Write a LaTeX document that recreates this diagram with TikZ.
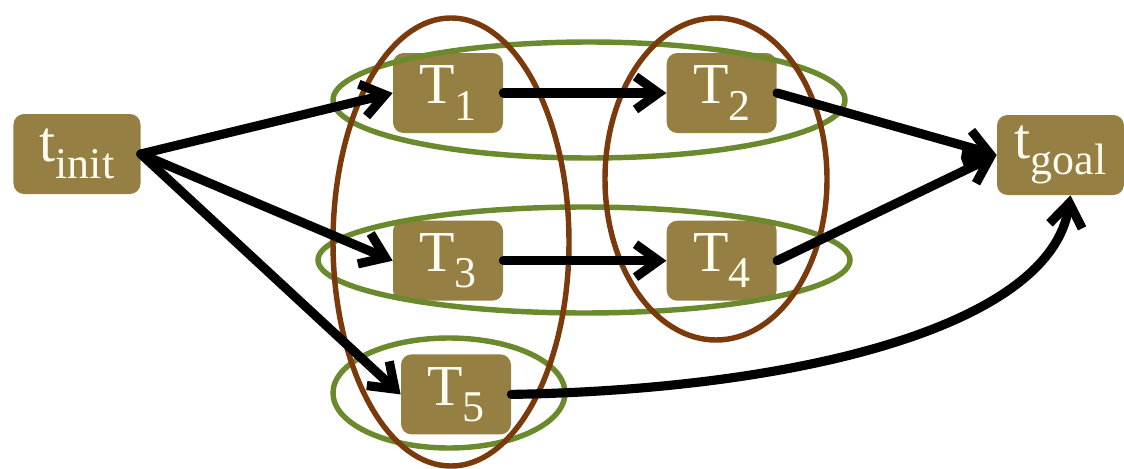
\documentclass[tikz,border=0pt]{standalone}
\usepackage{fontspec}
\setmainfont{Liberation Serif}
\usepackage{tikz}
\usetikzlibrary{arrows.meta,positioning,shapes.geometric}
\definecolor{taskfill}{HTML}{967F43}
\definecolor{tasktext}{HTML}{FFFDF2}
\definecolor{grpgreen}{HTML}{6B8A2E}
\definecolor{grpbrown}{HTML}{7A3A0C}
\newcommand{\lowsub}[1]{\raisebox{-0.28em}{\fontsize{25}{25}\selectfont #1}}

\begin{document}
\begin{tikzpicture}[node distance=17.4mm and 32.6mm,>={Straight Barb[length=4.6mm,width=6.6mm]},font=\fontsize{33}{36}\selectfont]
\tikzset{task/.style={fill=taskfill,text=tasktext,rounded corners=6pt,minimum width=22mm,minimum height=16mm,inner sep=0pt},
endpt/.style={task,minimum width=25.4mm},
rowgrp/.style={draw=grpgreen,line width=3.1pt,ellipse,inner sep=0pt},
colgrp/.style={draw=grpbrown,line width=3.1pt,ellipse,inner sep=0pt},
arr/.style={->,line width=5.2pt,line cap=round}}
\useasboundingbox (0,0) rectangle (22.48,-9.38);
\node[task] (T1) at (8.96,-1.86) {T\lowsub{1}};
\node[task,right=of T1] (T2) {T\lowsub{2}};
\node[task,below=of T1] (T3) {T\lowsub{3}};
\node[task,right=of T3] (T4) {T\lowsub{4}};
\node[task,below=10.6mm of T3,xshift=1.6mm] (T5) {T\lowsub{5}};
\node[endpt] (tinit) at (1.54,-3.08) {t\lowsub{init}};
\node[endpt] (tgoal) at (21.21,-3.1) {t\lowsub{goal}};
\node[rowgrp,minimum width=102.4mm,minimum height=23.2mm] (row12) at (11.78,-2.0) {};
\node[rowgrp,minimum width=106.4mm,minimum height=21.2mm] (row34) at (11.68,-5.2) {};
\node[rowgrp,minimum width=46.4mm,minimum height=22mm] (row5) at (8.98,-7.86) {};
\node[colgrp,minimum width=47.2mm,minimum height=89.6mm] (col135) at (9.02,-4.84) {};
\node[colgrp,minimum width=44.4mm,minimum height=64.4mm] (col24) at (14.32,-3.58) {};
\draw[arr] (tinit.east) -- (T1.west);
\draw[arr] (tinit.east) -- (T3.west);
\draw[arr] (tinit.east) -- (T5.west);
\draw[arr] (T1) -- (T2);
\draw[arr] (T3) -- (T4);
\draw[arr] (T2.east) -- (tgoal.west);
\draw[arr] (T4.east) -- (tgoal.west);
\draw[arr] (T5.east) .. controls +(5.8,0.1) and +(-0.4,-2.6) .. ([xshift=2mm]tgoal.south);
\end{tikzpicture}
\end{document}
